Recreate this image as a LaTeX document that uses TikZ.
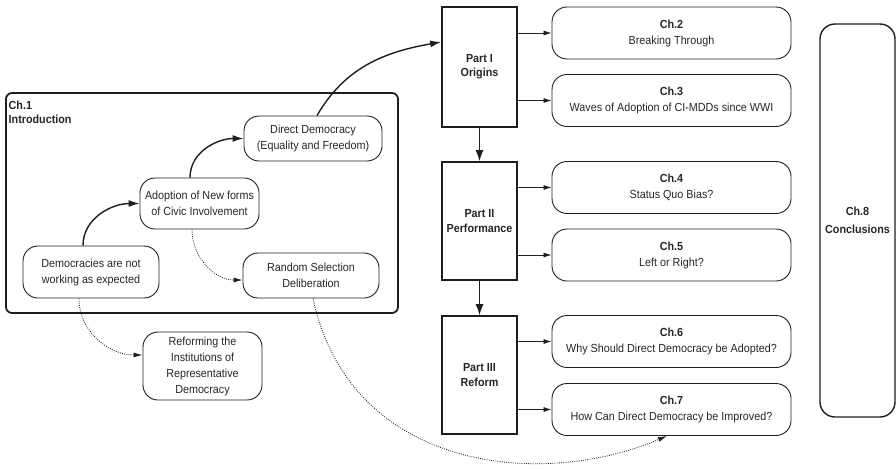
\documentclass[tikz,border=0pt]{standalone}
\usepackage{fontspec}
\setmainfont{Liberation Sans}[FakeStretch=0.92]
\usetikzlibrary{arrows.meta}
\definecolor{ink}{RGB}{30,30,30}
\definecolor{txt}{RGB}{38,38,38}

\begin{document}
\begin{tikzpicture}[x=1pt,y=-1pt,>=Latex,
bx/.style={draw=ink,rounded corners=15pt,line width=.9pt,align=center,text=txt,inner sep=0pt},
ch/.style={bx,minimum width=239pt,minimum height=52pt},
pt/.style={draw=ink,line width=1.8pt,align=center,font=\bfseries,text=txt,inner sep=0pt,minimum width=75pt},
sl/.style={ink,line width=.8pt,-{Latex[length=8pt,width=5pt]}},
vl/.style={ink,line width=1pt,-{Latex[length=11pt,width=8pt]}},
fl/.style={ink,line width=1.4pt,-{Latex[length=11pt,width=7pt]}},
dl/.style={ink,line width=.8pt,dash pattern=on .9pt off 1.3pt,-{Latex[length=9pt,width=5pt]}}]
\fontsize{11.7}{16}\selectfont
\useasboundingbox (0,0) rectangle (896,469);
% chapters
\foreach \n/\y/\t in {2/33/Breaking Through,3/100.5/Waves of Adoption of CI-MDDs since WWI,
4/187.5/Status Quo Bias?,5/255/Left or Right?,6/341.5/Why Should Direct Democracy be Adopted?,
7/409.5/How Can Direct Democracy be Improved?}
\node[ch] (c\n) at (671.5,\y) {{\bfseries Ch.\n}\\\t};
\node[bx,line width=1.4pt,minimum width=75pt,minimum height=393pt,font=\bfseries] (c8) at (857.5,220.5) {Ch.8\\[2pt]Conclusions};
% parts
\node[pt,minimum height=120pt] (p1) at (479.5,67) {Part I\\[-2pt]Origins};
\node[pt,minimum height=118pt] (p2) at (479.5,221) {Part II\\[-1pt]Performance};
\node[pt,minimum height=118pt] (p3) at (479.5,375) {Part III\\[-1pt]Reform};
\foreach \p/\a/\b in {1/2/3,2/4/5,3/6/7}{
\draw[sl] (p\p.east |- c\a) -- (c\a.west); \draw[sl] (p\p.east |- c\b) -- (c\b.west);}
\draw[vl] (p1) -- (p2); \draw[vl] (p2) -- (p3);
% introduction
\node[draw=ink,line width=1.8pt,rounded corners=6pt,inner sep=0pt,minimum width=392pt,minimum height=220pt] (ib) at (202,203) {};
\node[anchor=north west,align=left,font=\bfseries,text=txt,inner sep=0pt] (it) at (8.5,100.5) {Ch.1\\[-2pt]Introduction};
\node[bx,minimum width=138pt,minimum height=45pt] (dd) at (313,138.5) {Direct Democracy\\(Equality and Freedom)};
\node[bx,minimum width=119pt,minimum height=51pt] (ad) at (199.5,203.5) {Adoption of New forms\\of Civic Involvement};
\node[bx,minimum width=136pt,minimum height=52pt] (dm) at (91,272) {Democracies are not\\working as expected};
\node[bx,minimum width=136pt,minimum height=45pt] (rs) at (311,275.5) {Random Selection\\Deliberation};
\node[bx,minimum width=119pt,minimum height=68pt] (rf) at (202.5,366) {Reforming the\\Institutions of\\Representative\\Democracy};
\draw[fl] ([xshift=-8pt]dm.north) to[out=90,in=180] (ad.west);
\draw[fl] ([xshift=-9.5pt]ad.north) to[out=90,in=180] (dd.west);
\draw[fl] ([xshift=4pt]dd.north) to[out=60,in=190] ([yshift=25pt]p1.west);
\draw[dl] ([xshift=-7.5pt]ad.south) to[out=-90,in=180] ([yshift=-4.5pt]rs.west);
\draw[dl] ([xshift=-12pt]dm.south) to[out=-90,in=180] ([yshift=11pt]rf.west);
\draw[dl] ([xshift=2pt]rs.south) .. controls +(37,172) and +(-127,54) .. ([xshift=-4.5pt]c7.south);
\end{tikzpicture}
\end{document}
